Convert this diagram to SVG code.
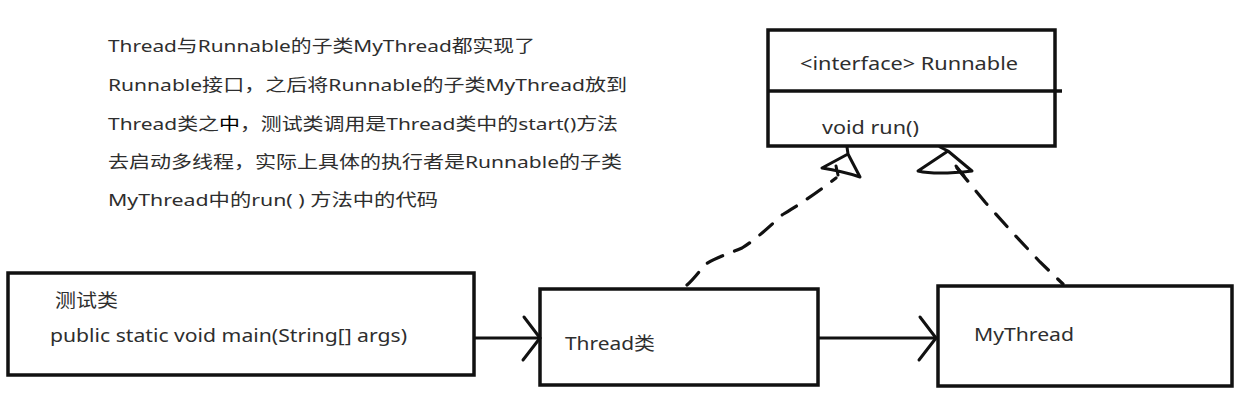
<svg xmlns="http://www.w3.org/2000/svg" width="1250" height="404" viewBox="0 0 1250 404">
  <defs>
    <style>
      .box { fill: #ffffff; stroke: #111111; stroke-width: 3.5; }
      .t { font-family: "Noto Sans", "Noto Sans CJK SC", sans-serif; fill: #2e2e2e; }
      .note { font-size: 17px; }
      .lbl { font-size: 18px; }
      .line { fill: none; stroke: #111111; stroke-width: 3; stroke-linecap: round; stroke-linejoin: round; }
      .dash { fill: none; stroke: #111111; stroke-width: 3.2; stroke-dasharray: 17 13; stroke-linecap: round; }
    </style>
    <marker id="open" markerUnits="userSpaceOnUse" markerWidth="30" markerHeight="50" refX="20" refY="25" orient="auto">
      <path d="M4,4 L20,25 L3,47" fill="none" stroke="#111111" stroke-width="3" stroke-linecap="round" stroke-linejoin="round"/>
    </marker>
  </defs>
  <rect width="1250" height="404" fill="#ffffff"/>

  <g id="note">
    <text class="t note" x="108" y="52" textLength="427" lengthAdjust="spacingAndGlyphs">Thread与Runnable的子类MyThread都实现了</text>
    <text class="t note" x="108" y="91" textLength="519" lengthAdjust="spacingAndGlyphs">Runnable接口，之后将Runnable的子类MyThread放到</text>
    <text class="t note" x="108" y="130" textLength="510" lengthAdjust="spacingAndGlyphs">Thread类之<tspan fill="#000000">中</tspan>，测试类调用是Thread类中的start()方法</text>
    <text class="t note" x="108" y="168" textLength="514" lengthAdjust="spacingAndGlyphs">去启动多线程，实际上具体的执行者是Runnable的子类</text>
    <text class="t note" x="108" y="206" textLength="330" lengthAdjust="spacingAndGlyphs">MyThread中的run( ) 方法中的代码</text>
  </g>

  <g id="runnable">
    <rect class="box" x="768" y="30" width="287" height="116"/>
    <line x1="768" y1="91" x2="1062" y2="91" stroke="#111111" stroke-width="3.5"/>
    <text class="t lbl" x="800" y="70" textLength="218" lengthAdjust="spacingAndGlyphs">&lt;interface&gt; Runnable</text>
    <text class="t lbl" x="822" y="134" textLength="97" lengthAdjust="spacingAndGlyphs">void run()</text>
  </g>

  <g id="test">
    <rect class="box" x="8" y="273" width="466" height="102"/>
    <text class="t lbl" x="55" y="307" textLength="63" lengthAdjust="spacingAndGlyphs">测试类</text>
    <text class="t lbl" x="50" y="342" textLength="357" lengthAdjust="spacingAndGlyphs">public static void main(String[] args)</text>
  </g>

  <g id="thread">
    <rect class="box" x="540" y="289" width="278" height="96"/>
    <text class="t lbl" x="565" y="350" textLength="90" lengthAdjust="spacingAndGlyphs">Thread类</text>
  </g>

  <g id="mythread">
    <rect class="box" x="938" y="286" width="294" height="100"/>
    <text class="t lbl" x="974" y="341" textLength="100" lengthAdjust="spacingAndGlyphs">MyThread</text>
  </g>

  <g id="connectors">
    <line class="line" x1="475" y1="338" x2="540" y2="338" marker-end="url(#open)"/>
    <line class="line" x1="819" y1="338" x2="936" y2="338" marker-end="url(#open)"/>
    <path class="dash" d="M687,285 C695,278 700,270 706,264 C715,258 728,254 742,248 C755,240 768,228 782,215 C795,207 810,198 836,178"/>
    <path class="line" d="M847,147 L848,154 L822,168 C835,170 848,173 860,177 L848,154 M836,166 L838,175"/>
    <path class="dash" d="M957,168 L985,202 L1012,232 L1040,262 L1063,284"/>
    <path class="line" d="M940,147 L948,151 L918,171 C935,175 955,173 972,171 L948,151 M956,166 L964,176"/>
  </g>
</svg>
